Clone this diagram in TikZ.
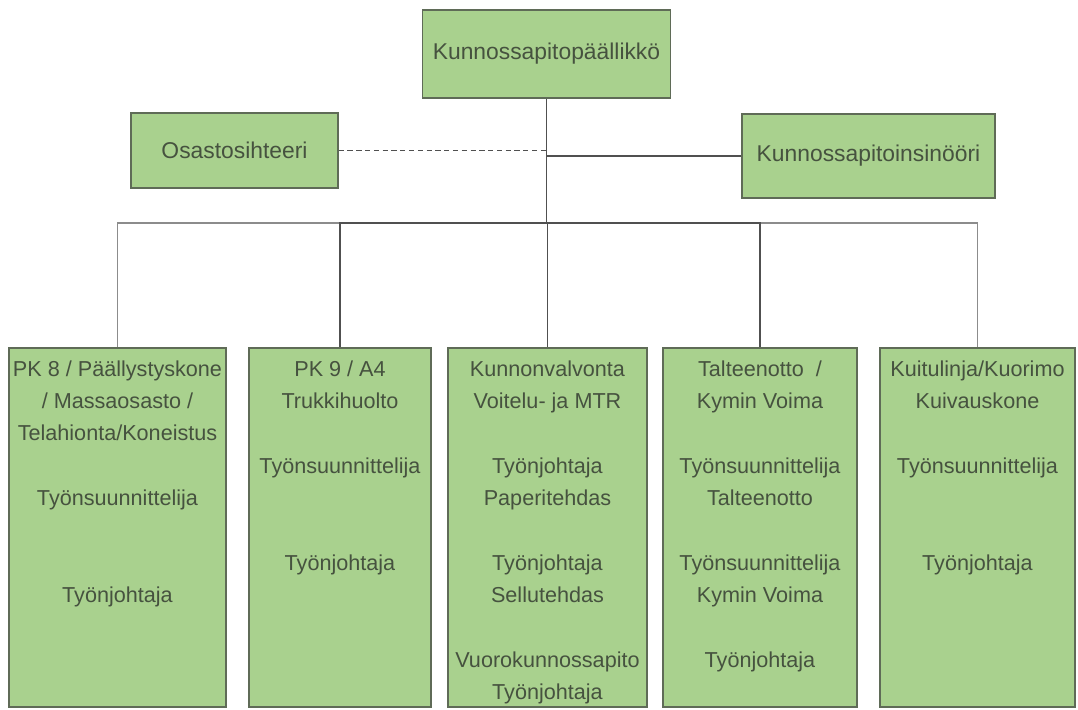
\documentclass[tikz,border=0pt]{standalone}
\usepackage{fontspec}
\setmainfont{Liberation Sans}
\definecolor{boxgreen}{HTML}{A9D18E}
\definecolor{boxedge}{HTML}{5F6B57}
\definecolor{boxtext}{HTML}{46523F}
\definecolor{linedark}{HTML}{505050}
\definecolor{linelight}{HTML}{8C8C8C}

\begin{document}
\begin{tikzpicture}[scale=0.2]
\tikzstyle{every node}+=[inner sep=0pt]
\tikzstyle{unit}=[draw=boxedge, fill=boxgreen, line width=0.8pt]
\tikzstyle{toptext}=[text=boxtext, font=\fontsize{13}{15.6}\selectfont]
\tikzstyle{lines}=[text=boxtext, font=\fontsize{12.3}{18.4}\selectfont, anchor=north, yshift=-3.3pt]
\tikzstyle{link}=[linedark, line width=0.85pt]
\useasboundingbox (0,0) rectangle (107.8,-70.9);
\node [unit, toptext, minimum width=4.96cm, minimum height=1.76cm] (chief) at (54.65,-5.4) {Kunnossapitopäällikkö};
\node [unit, toptext, minimum width=4.14cm, minimum height=1.5cm] (secretary) at (23.45,-15.05) {Osastosihteeri};
\node [unit, toptext, minimum width=5.06cm, minimum height=1.68cm] (engineer) at (86.85,-15.6) {Kunnossapitoinsinööri};
\node [unit, minimum width=4.34cm, minimum height=7.18cm] (b1) at (11.75,-52.75) {};
\node [unit, minimum width=3.64cm, minimum height=7.18cm] (b2) at (34.0,-52.75) {};
\node [unit, minimum width=3.98cm, minimum height=7.18cm] (b3) at (54.75,-52.75) {};
\node [unit, minimum width=3.88cm, minimum height=7.18cm] (b4) at (76.0,-52.75) {};
\node [unit, minimum width=3.9cm, minimum height=7.18cm] (b5) at (97.75,-52.75) {};
\node [lines] (t1) at (b1.north) {\begin{tabular}{@{}c@{}}PK 8 / Päällystyskone\\ / Massaosasto /\\ Telahionta/Koneistus\\ \\ Työnsuunnittelija\\ \\ \\ Työnjohtaja\end{tabular}};
\node [lines] (t2) at (b2.north) {\begin{tabular}{@{}c@{}}PK 9 / A4\\ Trukkihuolto\\ \\ Työnsuunnittelija\\ \\ \\ Työnjohtaja\end{tabular}};
\node [lines] (t3) at (b3.north) {\begin{tabular}{@{}c@{}}Kunnonvalvonta\\ Voitelu- ja MTR\\ \\ Työnjohtaja\\ Paperitehdas\\ \\ Työnjohtaja\\ Sellutehdas\\ \\ Vuorokunnossapito\\ Työnjohtaja\end{tabular}};
\node [lines] (t4) at (b4.north) {\begin{tabular}{@{}c@{}}Talteenotto~ /\\ Kymin Voima\\ \\ Työnsuunnittelija\\ Talteenotto\\ \\ Työnsuunnittelija\\ Kymin Voima\\ \\ Työnjohtaja\end{tabular}};
\node [lines] (t5) at (b5.north) {\begin{tabular}{@{}c@{}}Kuitulinja/Kuorimo\\ Kuivauskone\\ \\ Työnsuunnittelija\\ \\ \\ Työnjohtaja\end{tabular}};
\coordinate (bus) at (54.65,-22.3);
\draw [link, dash pattern=on 3pt off 2pt] (secretary.east) -- (secretary.east -| chief.south);
\draw [link] (engineer.west) -- (engineer.west -| chief.south);
\draw [link, linelight] (bus) -| (b1.north);
\draw [link, linelight] (bus) -| (b5.north);
\draw [link] (chief.south) -- (bus);
\draw [link] (bus) -| (b2.north);
\draw [link] (bus) -| (b3.north);
\draw [link] (bus) -| (b4.north);
\end{tikzpicture}
\end{document}
